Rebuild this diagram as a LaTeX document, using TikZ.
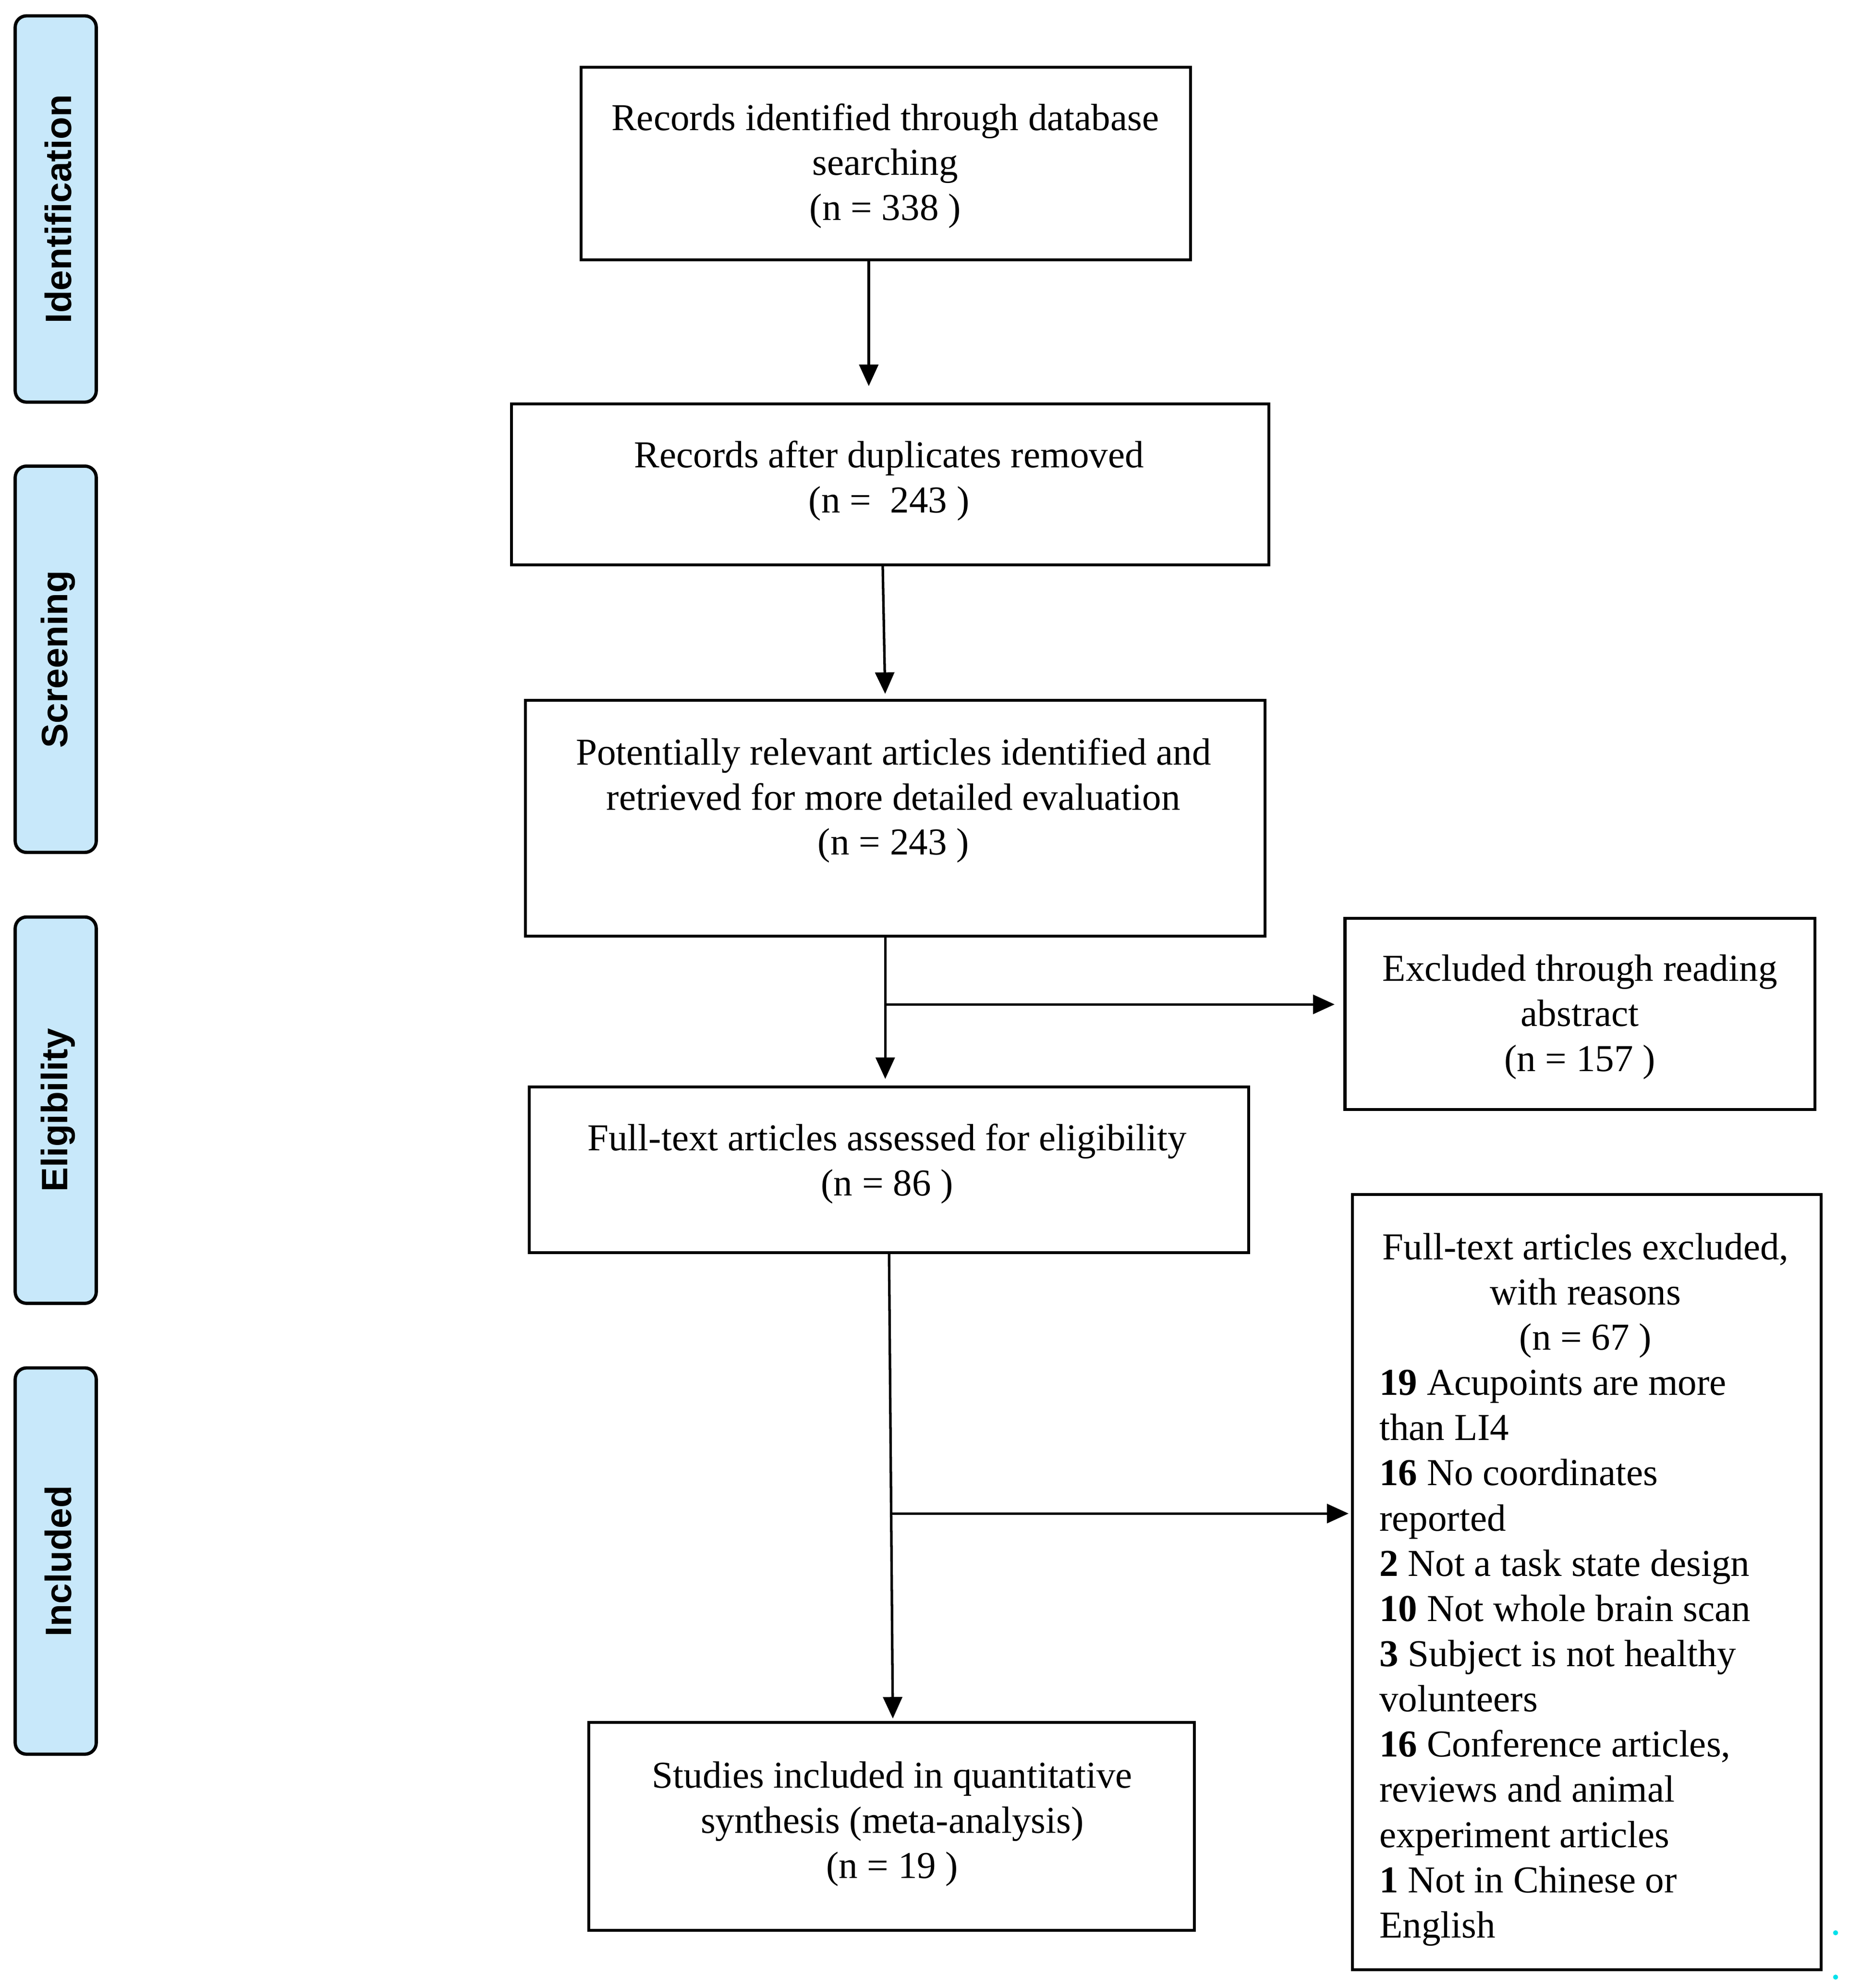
\documentclass[tikz,border=0pt]{standalone}
\usepackage{fontspec}
\setmainfont{Liberation Serif}
\newfontfamily\sidefont{Liberation Sans}
\usetikzlibrary{arrows.meta}
\definecolor{sideblue}{RGB}{200,232,250}
\definecolor{dotcyan}{RGB}{0,225,235}
\begin{document}
\begin{tikzpicture}[x=1pt,y=-1pt,
  box/.style={draw=black, line width=2.3pt, inner sep=0pt, fill=white},
  txt/.style={align=center, inner sep=0pt, font=\fontsize{30}{35.6}\selectfont},
  lst/.style={align=left, inner sep=0pt, font=\fontsize{30}{35.7}\selectfont},
  side/.style={draw=black, line width=2.6pt, rounded corners=9pt, fill=sideblue, minimum width=64pt, minimum height=305pt, inner sep=0pt},
  sidetxt/.style={rotate=90, font=\sidefont\bfseries\fontsize{29}{30}\selectfont, inner sep=0pt},
  arr/.style={line width=2pt, -{Triangle[length=17pt,width=15pt]}},
]
\useasboundingbox (0,0) rectangle (1460,1569.6);

% side phase labels
\node[side] (s1) at (44,165) {};
\node[sidetxt] (s1t) at (46,165) {Identification};
\node[side] (s2) at (44,520.5) {};
\node[sidetxt] (s2t) at (46,520.5) {Screening};
\node[side] (s3) at (44,876.5) {};
\node[sidetxt] (s3t) at (46,876.5) {Eligibility};
\node[side] (s4) at (44,1232.5) {};
\node[sidetxt] (s4t) at (46,1232.5) {Included};

% main boxes
\node[box, minimum width=481pt, minimum height=152pt] (a) at (699.5,129) {};
\node[txt] (at) at (699,131) {Records identified through database\\searching\\(n = 338 )};

\node[box, minimum width=598pt, minimum height=127pt] (b) at (703,382.5) {};
\node[txt] (bt) at (702,379.5) {Records after duplicates removed\\(n =\ \ 243 )};

\node[box, minimum width=584pt, minimum height=186pt] (c) at (707,646) {};
\node[txt] (ct) at (705.5,632) {Potentially relevant articles identified and\\retrieved for more detailed evaluation\\(n = 243 )};

\node[box, minimum width=371pt, minimum height=151pt] (d) at (1247.5,800.5) {};
\node[txt] (dt) at (1247.5,803) {Excluded through reading\\abstract\\(n = 157 )};

\node[box, minimum width=568pt, minimum height=131pt] (e) at (702,923.5) {};
\node[txt] (et) at (700.5,919) {Full-text articles assessed for eligibility\\(n = 86 )};

\node[box, minimum width=370pt, minimum height=612pt] (f) at (1253,1249) {};
\node[txt] (fh) at (1252,1023) {Full-text articles excluded,\\with reasons\\(n = 67 )};
\node[lst, anchor=west] (fl) at (1089,1309) {\textbf{19} Acupoints are more\\than LI4\\\textbf{16} No coordinates\\reported\\\textbf{2} Not a task state design\\\textbf{10} Not whole brain scan\\\textbf{3} Subject is not healthy\\volunteers\\\textbf{16} Conference articles,\\reviews and animal\\experiment articles\\\textbf{1} Not in Chinese or\\English};

\node[box, minimum width=478pt, minimum height=164pt] (g) at (704,1442) {};
\node[txt] (gt) at (704.5,1440) {Studies included in quantitative\\synthesis (meta-analysis)\\(n = 19 )};

% connectors
\draw[arr, shorten >=13pt] ([xshift=-13.5pt]a.south) -- ([xshift=-17pt]b.north);
\draw[arr, shorten >=4pt] ([xshift=-6pt]b.south) -- ([xshift=-8pt]c.north);
\draw[arr, shorten >=5pt] ([xshift=-8pt]c.south) -- ([xshift=-3pt]e.north);
\coordinate (j1) at (699,793);
\draw[arr, shorten >=7pt] (j1) -- (j1 -| d.west);
\draw[arr, shorten >=2pt] (e.south) -- ([xshift=1pt]g.north);
\coordinate (j2) at (704,1195);
\draw[arr, shorten >=2pt] (j2) -- (j2 -| f.west);

% stray dots
\fill[dotcyan] (1449.4,1526) circle (2pt);
\fill[dotcyan] (1449.4,1561) circle (2pt);
\end{tikzpicture}
\end{document}
